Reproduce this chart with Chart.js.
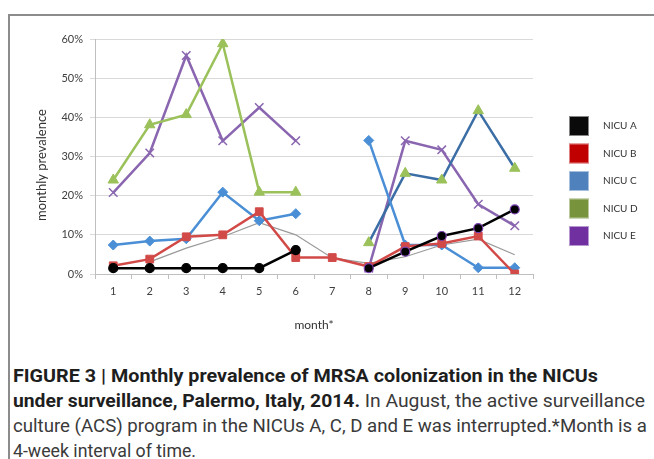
<!DOCTYPE html>
<html>
<head>
<meta charset="utf-8">
<script src="https://cdn.jsdelivr.net/npm/chart.js@4.4.1/dist/chart.umd.min.js"></script>
<style>
  html, body { margin: 0; padding: 0; background: #fff; width: 654px; height: 459px; overflow: hidden; }
  #frame { position: absolute; left: 8px; top: 14px; width: 700px; height: 500px;
           border-left: 2px solid #8c8c8c; border-top: 2px solid #8c8c8c; }
  #wrap { position: absolute; left: 0; top: 0; width: 654px; height: 345px; }
  #caption { position: absolute; left: 13px; top: 363px; font-family: Roboto, "Liberation Sans", sans-serif;
             font-size: 18px; color: #3a3a3a; }
  #caption .ln { white-space: nowrap; height: 25px; line-height: 25px; transform-origin: 0 50%; display: block; width: max-content; }
  #caption b { color: #1e1e1e; font-weight: bold; }
</style>
</head>
<body>
<div id="frame"></div>
<div id="wrap"><canvas id="c" width="654" height="345"></canvas></div>
<div id="caption">
  <span class="ln" data-w="585"><b>FIGURE 3 | Monthly prevalence of MRSA colonization in the NICUs</b></span>
  <span class="ln" data-w="632"><b>under surveillance, Palermo, Italy, 2014.</b> In August, the active surveillance</span>
  <span class="ln" data-w="634">culture (ACS) program in the NICUs A, C, D and E was interrupted.*Month is a</span>
  <span class="ln" data-w="183">4-week interval of time.</span>
</div>
<script>
const months = ['1','2','3','4','5','6','7','8','9','10','11','12'];
const nicuA = [1.5, 1.5, 1.5, 1.5, 1.5, 6.1, null, 1.5, 5.7, 9.7, 11.7, 16.5];
const nicuB = [2.1, 3.8, 9.5, 10.0, 15.9, 4.2, 4.2, 1.9, 7.0, 7.8, 9.7, 0];
const nicuC = [7.4, 8.4, 9.0, 20.9, 13.6, 15.4, null, 34.1, 7.4, 7.4, 1.6, 1.6];
const nicuD = [24.0, 38.1, 40.7, 58.8, 20.9, 20.9, null, 8.0, 25.7, 24.0, 41.7, 27.0];
const nicuE = [20.8, 30.9, 55.8, 34.0, 42.5, 34.0, null, 1.5, 34.0, 31.7, 17.8, 12.3];
const overall = [null, 3.1, 6.6, 9.5, 13.1, 10.0, 4.1, 2.7, 4.4, 7.4, 8.9, 4.9];
const yTicks = [0, 10, 20, 30, 40, 50, 60];
const legendNames = ['NICU A', 'NICU B', 'NICU C', 'NICU D', 'NICU E'];
const yTitle = 'monthly prevalence';
const xTitle = 'month*';

const FONT = 'Lato, "Open Sans", sans-serif';

const aBorder = nicuA.map((v, i) => i >= 7 ? '#7a3fb0' : '#000');

const legendPlugin = {
  id: 'customLegend',
  afterDraw(chart) {
    const ctx = chart.ctx;
    ctx.save();
    chart.data.datasets.forEach((ds, i) => {
      if (!ds.legendColor) return;
      const cy = 126 + i * 27.5;
      ctx.fillStyle = ds.legendColor;
      ctx.fillRect(569, cy - 10, 20, 20);
      ctx.strokeStyle = 'rgba(255,255,255,0.5)';
      ctx.lineWidth = 1;
      ctx.strokeRect(569.5, cy - 9.5, 19, 19);
      ctx.fillStyle = '#333';
      ctx.font = '10px ' + FONT;
      ctx.textBaseline = 'middle';
      ctx.textAlign = 'left';
      ctx.fillText(ds.label, 603, cy);
    });
    // y axis title
    ctx.translate(42, 165);
    ctx.rotate(-Math.PI / 2);
    ctx.fillStyle = '#333';
    ctx.font = '13px ' + FONT;
    ctx.textAlign = 'center';
    ctx.textBaseline = 'middle';
    ctx.fillText(yTitle, 0, 0);
    ctx.restore();
  }
};

function build() {
  new Chart(document.getElementById('c'), {
    type: 'line',
    data: {
      labels: months,
      datasets: [
        { label: legendNames[0], data: nicuA, legendColor: '#0a0a0a', borderColor: '#000', backgroundColor: '#000',
          borderWidth: 2.5, pointStyle: 'circle', pointRadius: 4.5, pointBorderColor: aBorder, pointBorderWidth: 1.2 },
        { label: legendNames[1], data: nicuB, legendColor: '#c00000', borderColor: '#d24a48', backgroundColor: '#d24a48',
          borderWidth: 2.5, pointStyle: 'rect', pointRadius: 5.5, pointBorderColor: '#d24a48', pointBorderWidth: 1 },
        { label: legendNames[2], data: nicuC, legendColor: '#4f81bd', borderColor: '#4a8fd6', backgroundColor: '#4a8fd6',
          borderWidth: 2.5, pointStyle: 'rectRot', pointRadius: 5, pointBorderColor: '#4a8fd6', pointBorderWidth: 1 },
        { label: legendNames[3], data: nicuD, legendColor: '#77933c', borderColor: '#9bc15a', backgroundColor: '#9bc15a',
          borderWidth: 2.5, pointStyle: 'triangle', pointRadius: 6, pointBorderColor: '#9bc15a', pointBorderWidth: 1,
          segment: { borderColor: c => c.p0DataIndex >= 7 ? '#3c6ea6' : '#9bc15a' } },
        { label: legendNames[4], data: nicuE, legendColor: '#7030a0', borderColor: '#8a66b0', backgroundColor: '#8a66b0',
          borderWidth: 2.5, pointStyle: 'crossRot', pointRadius: 6, pointBorderColor: '#8a66b0', pointBorderWidth: 1.5 },
        { label: 'overall', data: overall, borderColor: '#9a9a9a', backgroundColor: '#9a9a9a',
          borderWidth: 1.2, pointRadius: 0 }
      ]
    },
    options: {
      responsive: false,
      animation: false,
      spanGaps: false,
      layout: { padding: { top: 39, right: 121, left: 0, bottom: 0 } },
      plugins: { legend: { display: false }, tooltip: { enabled: false } },
      scales: {
        x: {
          offset: true,
          grid: { offset: true, drawOnChartArea: false, drawTicks: true, tickLength: 5, color: '#bfbfbf' },
          border: { color: '#bfbfbf', width: 1 },
          ticks: { color: '#404040', font: { family: FONT, size: 11 }, padding: 6, maxRotation: 0 },
          title: { display: true, text: xTitle, color: '#333', font: { family: FONT, size: 12 }, padding: { top: 0, bottom: 13 } },
          afterFit: s => { s.height = 71; }
        },
        y: {
          min: 0, max: 60,
          afterBuildTicks: s => { s.ticks = yTicks.map(v => ({ value: v })); },
          grid: { color: '#d9d9d9', tickLength: 5, lineWidth: 1 },
          border: { color: '#bfbfbf', width: 1 },
          ticks: { color: '#404040', font: { family: FONT, size: 11 }, padding: 7, callback: v => v + '%' },
          title: { display: false },
          afterFit: s => { s.width = 95; }
        }
      }
    },
    plugins: [legendPlugin]
  });
}

function fitCaption() {
  document.querySelectorAll('#caption .ln').forEach(el => {
    el.style.transform = '';
    const w = el.getBoundingClientRect().width;
    const target = parseFloat(el.dataset.w);
    el.style.transform = 'scaleX(' + (target / w) + ')';
  });
}

Promise.all([
  document.fonts.load('11px Lato'),
  document.fonts.load('13px Lato'),
  document.fonts.load('18px Roboto'),
  document.fonts.load('bold 18px Roboto')
]).catch(() => {}).then(() => { build(); fitCaption(); });
</script>
</body>
</html>
